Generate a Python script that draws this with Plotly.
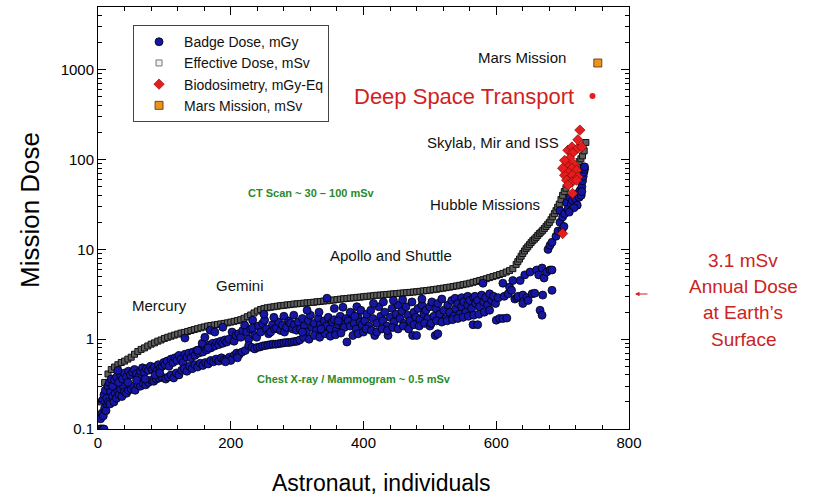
import math
import plotly.graph_objects as go

# ---------------- data ----------------
eff_x = list(range(0, 630, 5)) + [630, 632.5, 635, 637.5, 640, 642.5, 645, 647.5, 650, 652.5, 655, 657.5,
                                  660, 662.5, 665, 667.5, 670, 672.5, 675, 677.5, 680, 682.5, 685, 687.5,
                                  690, 692.5, 695, 697.5, 700, 702.5, 705, 707.5, 710, 712.5, 715, 717.5,
                                  720, 722.5, 725, 727.5, 730, 732.5, 735]
eff_y = [0.13, 0.2, 0.33, 0.41, 0.46, 0.49, 0.52, 0.55, 0.57, 0.6, 0.63, 0.68, 0.73, 0.77, 0.8, 0.84, 0.88, 0.91, 0.95, 0.98,
         1.02, 1.05, 1.08, 1.11, 1.14, 1.17, 1.19, 1.22, 1.25, 1.28, 1.31, 1.34, 1.37, 1.4, 1.42, 1.44, 1.46, 1.48, 1.5, 1.52,
         1.55, 1.58, 1.61, 1.65, 1.71, 1.78, 1.86, 1.96, 2.06, 2.14, 2.2, 2.24, 2.27, 2.3, 2.33, 2.36, 2.38, 2.41, 2.43, 2.46,
         2.48, 2.5, 2.52, 2.54, 2.56, 2.58, 2.61, 2.63, 2.66, 2.68, 2.71, 2.73, 2.76, 2.79, 2.82, 2.84, 2.87, 2.89, 2.92, 2.94,
         2.97, 3.0, 3.02, 3.05, 3.08, 3.1, 3.12, 3.15, 3.17, 3.2, 3.22, 3.25, 3.27, 3.3, 3.32, 3.35, 3.38, 3.41, 3.45, 3.48,
         3.52, 3.56, 3.6, 3.65, 3.7, 3.75, 3.8, 3.86, 3.92, 3.98, 4.05, 4.12, 4.2, 4.3, 4.4, 4.5, 4.6, 4.72, 4.85, 4.98,
         5.1, 5.25, 5.4, 5.6, 5.8, 6.1,
         6.8, 7.3, 7.8, 8.4, 9.0, 9.6, 10.2, 10.7, 11.3, 11.9, 12.5, 13.0,
         13.6, 14.3, 15.0, 15.6, 16.3, 17.1, 18.0, 19.0, 20.0, 21.4, 23.0, 25.0,
         27.0, 29.5, 32.0, 36, 40, 44, 48, 53, 58, 63, 68, 74,
         80, 87, 95, 102, 110, 125, 155]

badge_x = [
    # 0-20
    3, 5, 7, 9, 4, 6, 8, 10, 12, 14, 7, 9, 11, 13, 15, 17, 16, 18, 19, 20,
    # 20-100 lower band
    22, 24, 26, 28, 30, 32, 34, 36, 38, 40, 43, 46, 50, 53, 56, 60, 64, 68, 72, 76, 80, 84, 88, 92, 96,
    # 20-100 upper band
    22, 25, 28, 31, 34, 37, 40, 43, 46, 49, 52, 55, 58, 61, 64, 67, 70, 73, 76, 79, 82, 85, 88, 91, 94, 97, 99,
    30, 45, 58, 71, 86, 93,
    # 100-200 upper band
    101, 104, 107, 110, 113, 116, 119, 122, 125, 128, 131, 134, 137, 140, 143, 146, 149, 152, 155, 158, 161, 164,
    167, 170, 173, 176, 179, 182, 185, 188, 191, 194, 197,
    # 100-200 lower band
    102, 106, 110, 114, 118, 122, 126, 130, 134, 138, 142, 146, 150, 154, 158, 162, 166, 170, 174, 178, 182, 186,
    190, 194, 198,
    131, 157, 161, 169, 176, 188, 166, 150,
    # 200-300 cluster
    202, 205, 208, 212, 215, 218, 221, 224, 227, 230, 233, 236, 239, 242, 245, 248, 251, 254, 257, 260, 263, 266,
    269, 272, 275, 278, 281, 284, 287, 290, 293, 296, 299,
    # 200-300 lower line
    205, 209, 213, 217, 222, 227, 232, 236, 240, 244, 248, 252, 256, 260, 264, 268, 272, 276, 280, 284, 288, 292,
    296, 300,
    233, 250, 265, 280, 295, 200, 210, 192,
    # 300-400
    302, 305, 308, 311, 314, 317, 320, 323, 326, 329, 332, 335, 338, 341, 344, 347, 350, 353, 356, 359, 362, 365,
    368, 371, 374, 377, 380, 383, 386, 389, 392, 395, 398,
    304, 310, 318, 326, 334, 342, 350, 358, 366, 375, 384, 392, 400,
    315, 333, 345, 356, 369, 380, 390, 396,
    308, 336, 362, 387,
    # 400-500
    402, 405, 408, 411, 414, 417, 420, 423, 426, 429, 432, 435, 437, 440, 443, 446, 449, 452, 455, 458, 461, 464,
    467, 470, 473, 474, 476, 479, 480, 482, 485, 488, 491, 494, 497, 500,
    404, 412, 420, 428, 436, 444, 452, 460, 468, 476, 484, 492, 500,
    415, 430, 445, 459, 488,
    # 500-600
    503, 506, 508, 509, 512, 512, 515, 518, 521, 524, 527, 530, 533, 536, 538, 539, 542, 545, 548, 548, 551, 554,
    557, 557, 560, 563, 565, 566, 568, 569, 572, 572, 575, 578, 580, 581, 584, 587, 590, 593, 596, 599,
    502, 510, 518, 526, 534, 542, 550, 558, 566, 574, 582, 590,
    # 600-690
    600, 605, 610, 616, 603, 610, 612, 618, 620, 623, 625, 628, 631, 633, 636, 640, 640, 643, 646, 648, 651, 654,
    658, 661, 664, 666, 669, 669, 672, 676, 681, 684, 670, 684, 678, 681, 684,
    # 690-735
    690, 693, 696, 699, 696, 700, 702, 703, 706, 708, 711, 713, 715, 718, 720, 723, 725, 726, 728, 729, 730, 731,
    732, 733, 733, 729, 722, 717, 710,
]
badge_y = [
    # 0-20
    0.1, 0.1, 0.1, 0.1, 0.13, 0.15, 0.14, 0.17, 0.16, 0.19, 0.21, 0.24, 0.27, 0.22, 0.3, 0.33, 0.2, 0.19, 0.26, 0.36,
    # 20-100 lower band
    0.23, 0.2, 0.25, 0.22, 0.27, 0.24, 0.28, 0.23, 0.3, 0.26, 0.25, 0.27, 0.28, 0.3, 0.27, 0.31, 0.3, 0.32, 0.31,
    0.33, 0.35, 0.34, 0.36, 0.37, 0.38,
    # 20-100 upper band
    0.3, 0.35, 0.38, 0.33, 0.4, 0.36, 0.42, 0.38, 0.44, 0.4, 0.43, 0.46, 0.41, 0.38, 0.44, 0.48, 0.43, 0.47, 0.45,
    0.5, 0.46, 0.49, 0.44, 0.52, 0.48, 0.5, 0.55,
    0.45, 0.33, 0.35, 0.36, 0.4, 0.42,
    # 100-200 upper band
    0.52, 0.57, 0.5, 0.6, 0.55, 0.62, 0.58, 0.66, 0.6, 0.55, 0.68, 0.63, 0.7, 0.62, 0.72, 0.66, 0.75, 0.7, 0.78,
    0.72, 0.82, 0.76, 0.86, 0.8, 0.9, 0.84, 0.92, 0.87, 0.95, 0.9, 0.98, 0.93, 1.0,
    # 100-200 lower band
    0.36, 0.38, 0.4, 0.37, 0.42, 0.4, 0.45, 0.47, 0.44, 0.5, 0.47, 0.52, 0.49, 0.54, 0.51, 0.55, 0.53, 0.58, 0.56,
    0.6, 0.57, 0.62, 0.59, 0.6, 0.63,
    1.03, 0.9, 1.05, 1.26, 1.2, 1.36, 0.8, 0.75,
    # 200-300 cluster
    1.2, 0.95, 1.1, 1.15, 1.05, 1.25, 1.43, 1.2, 1.0, 1.3, 1.33, 1.1, 1.05, 1.4, 1.2, 1.5, 1.63, 1.3, 1.15, 1.2,
    1.45, 1.3, 1.33, 1.55, 1.25, 1.43, 1.2, 1.35, 1.6, 1.5, 1.3, 1.45, 1.26,
    # 200-300 lower line
    0.66, 0.7, 0.68, 0.72, 0.75, 0.85, 0.81, 0.78, 0.81, 0.82, 0.84, 0.85, 0.86, 0.87, 0.88, 0.88, 0.89, 0.9, 0.91,
    0.92, 0.92, 0.93, 0.94, 0.95,
    1.63, 1.9, 1.75, 1.8, 1.85, 0.58, 0.62, 0.56,
    # 300-400
    1.55, 1.3, 1.7, 1.4, 1.2, 1.6, 1.85, 1.35, 1.5, 1.25, 1.7, 1.45, 1.2, 1.6, 1.4, 1.75, 1.3, 1.55, 1.65, 1.25,
    1.45, 1.8, 1.5, 1.35, 1.7, 1.6, 1.4, 1.9, 1.5, 1.3, 1.75, 1.55, 1.45,
    0.98, 1.05, 1.0, 1.1, 1.05, 1.15, 1.08, 1.12, 1.17, 0.93, 1.1, 1.15, 1.2,
    2.1, 2.0, 2.86, 2.2, 2.27, 2.0, 2.3, 2.1,
    1.2, 1.3, 1.6, 1.8,
    # 400-500
    1.6, 1.9, 1.4, 2.1, 1.7, 1.1, 1.5, 2.3, 1.8, 1.6, 2.0, 1.4, 1.1, 1.75, 2.2, 1.55, 1.9, 2.4, 1.7, 2.05, 1.5, 2.3,
    1.85, 1.6, 2.6, 1.1, 2.0, 1.75, 1.1, 2.2, 1.65, 2.4, 1.9, 2.1, 1.7, 2.3,
    1.3, 1.25, 1.2, 1.3, 1.25, 1.35, 1.3, 1.4, 1.3, 1.45, 1.4, 1.5, 1.4,
    2.5, 2.6, 2.7, 2.75, 2.8,
    # 500-600
    2.6, 1.8, 1.1, 2.2, 1.15, 2.5, 1.9, 2.8, 2.1, 1.7, 2.4, 2.0, 2.7, 1.8, 2.85, 2.2, 2.5, 1.9, 2.9, 2.3, 2.6, 2.0,
    3.0, 2.4, 2.7, 2.2, 1.45, 2.9, 3.0, 2.5, 1.45, 2.7, 2.3, 3.1, 4.2, 2.6, 2.9, 2.4, 3.2, 2.7, 3.0, 2.5,
    1.5, 1.6, 1.55, 1.6, 1.65, 1.7, 1.75, 1.8, 1.85, 1.9, 2.0, 2.1,
    # 600-690
    1.63, 1.7, 1.7, 1.72, 2.9, 4.2, 3.0, 3.2, 3.8, 3.5, 4.5, 2.8, 2.9, 3.0, 4.5, 2.5, 3.1, 5.2, 2.9, 2.7, 5.6, 3.2,
    3.25, 5.9, 5.2, 2.1, 1.85, 6.2, 4.8, 5.6, 5.9, 5.9, 3.1, 3.5, 10, 11.1, 12,
    # 690-735
    14, 16, 20, 16.4, 27, 23, 18, 25, 33, 28, 38, 32, 35, 40, 36, 42, 38, 45, 40, 50, 58, 65,
    72, 78, 83, 44, 31, 29, 26,
]

bio_x = [726, 708, 714, 723, 729, 715, 711, 718, 706, 714, 721, 708, 703, 715, 723, 706, 714, 721, 708, 715, 703, 700, 700, 723]
bio_y = [213, 127, 138, 134, 138, 118, 103, 87, 87, 80, 76, 72, 67, 67, 64, 59, 56, 59, 52, 42, 98, 80, 15, 166]

mars_x = [753]
mars_y = [1190]
dst_x = [745]
dst_y = [510]

x_ticks = [0, 200, 400, 600, 800]
y_ticks = [0.1, 1, 10, 100, 1000]
y_tick_text = ["0.1", "1", "10", "100", "1000"]
y_minor = [m * 10 ** e for e in range(-1, 4) for m in range(2, 10) if m * 10 ** e <= 5000]

labels = [
    ("Mercury", 93, 2.39),
    ("Gemini", 214, 4.0),
    ("Apollo and Shuttle", 442, 8.6),
    ("Hubble Missions", 583, 32),
    ("Skylab, Mir and ISS", 595, 153),
    ("Mars Mission", 639, 1370),
]

FONT = "Liberation Sans, Arial, Helvetica, sans-serif"

fig = go.Figure()
fig.add_trace(go.Scatter(
    x=eff_x, y=eff_y, mode="markers", name="Effective Dose, mSv", showlegend=False,
    marker=dict(symbol="square", size=6, color="#5e5e5e", line=dict(color="#111111", width=1)),
))
# legend swatch for the effective dose series (small open light-gray square, as in the key)
fig.add_trace(go.Scatter(
    x=[None], y=[None], mode="markers", name="Effective Dose, mSv", legendrank=2,
    marker=dict(symbol="square", size=6, color="#f2f2f2", line=dict(color="#777777", width=1)),
))
fig.add_trace(go.Scatter(
    x=badge_x, y=badge_y, mode="markers", name="Badge Dose, mGy", legendrank=1,
    marker=dict(symbol="circle", size=8, color="#1616a4", line=dict(color="#000000", width=0.8)),
))
fig.add_trace(go.Scatter(
    x=bio_x, y=bio_y, mode="markers", name="Biodosimetry, mGy-Eq", legendrank=3,
    marker=dict(symbol="diamond", size=8, color="#e41e1e", line=dict(color="#7a0000", width=0.6)),
))
fig.add_trace(go.Scatter(
    x=mars_x, y=mars_y, mode="markers", name="Mars Mission, mSv", legendrank=4,
    marker=dict(symbol="square", size=8, color="#f0901e", line=dict(color="#4a3010", width=0.8)),
))
fig.add_trace(go.Scatter(
    x=dst_x, y=dst_y, mode="markers", showlegend=False,
    marker=dict(symbol="circle", size=6, color="#e41e1e", line=dict(width=0)),
))

C = dict(xanchor="center", yanchor="middle", showarrow=False)
ann = []
for t, xv, yv in labels:
    ann.append(dict(x=xv, y=math.log10(yv), xref="x", yref="y", text=t,
                    font=dict(family=FONT, size=15, color="#111"), **C))
ann.append(dict(x=551, y=math.log10(510), xref="x", yref="y", text="Deep Space Transport",
                font=dict(family=FONT, size=22, color="#d21f1f"), **C))
ann.append(dict(x=321, y=math.log10(42), xref="x", yref="y", text="<b>CT Scan ~ 30 – 100 mSv</b>",
                font=dict(family=FONT, size=11, color="#2a8a2a"), **C))
ann.append(dict(x=385, y=math.log10(0.36), xref="x", yref="y", text="<b>Chest X-ray / Mammogram ~ 0.5 mSv</b>",
                font=dict(family=FONT, size=11, color="#2a8a2a"), **C))
# axis titles
ann.append(dict(x=-0.128, y=0.519, xref="paper", yref="paper", text="Mission Dose", textangle=-90,
                font=dict(family=FONT, size=26, color="#000"), **C))
ann.append(dict(x=0.533, y=-0.128, xref="paper", yref="paper", text="Astronaut, individuals",
                font=dict(family=FONT, size=23, color="#000"), **C))
# right side note
for t, py in [("3.1 mSv", 260), ("Annual Dose", 286), ("at Earth’s", 312), ("Surface", 339)]:
    ann.append(dict(x=(743 - 98) / 531, y=(429 - py) / 422, xref="paper", yref="paper", text=t,
                    font=dict(family=FONT, size=19, color="#cc2222"), **C))
ann.append(dict(x=(635 - 98) / 531, y=(429 - 294) / 422, xref="paper", yref="paper", text="",
                showarrow=True, arrowhead=2, arrowsize=0.9, arrowwidth=1, arrowcolor="#cc2222",
                ax=14, ay=0))

fig.update_layout(
    width=820, height=498,
    margin=dict(l=98, r=191, t=7, b=69, autoexpand=False),
    paper_bgcolor="white", plot_bgcolor="white",
    font=dict(family=FONT, color="#000"),
    annotations=ann,
    legend=dict(x=0.066, y=0.957, xanchor="left", yanchor="top", bgcolor="white",
                bordercolor="#444", borderwidth=1, font=dict(family=FONT, size=14, color="#111"),
                tracegroupgap=0, itemwidth=40),
)
fig.update_xaxes(
    range=[0, 800], tickmode="array", tickvals=x_ticks, ticks="inside", ticklen=8, tickcolor="#000",
    showline=True, linecolor="#000", linewidth=1, mirror="allticks", showgrid=False, zeroline=False,
    tickfont=dict(family=FONT, size=15, color="#000"), automargin=False,
    minor=dict(tickmode="linear", tick0=0, dtick=40, ticks="inside", ticklen=4, tickcolor="#000", showgrid=False),
)
fig.update_yaxes(
    type="log", range=[-1, math.log10(5000)], tickmode="array", tickvals=y_ticks, ticktext=y_tick_text,
    ticks="inside", ticklen=8, tickcolor="#000",
    showline=True, linecolor="#000", linewidth=1, mirror="allticks", showgrid=False, zeroline=False,
    tickfont=dict(family=FONT, size=15, color="#000"), automargin=False,
    minor=dict(tickmode="array", tickvals=y_minor, ticks="inside", ticklen=4, tickcolor="#000", showgrid=False),
)

fig.write_html("out.html", config={"displayModeBar": False},
               post_script="document.body.style.margin='0';")
